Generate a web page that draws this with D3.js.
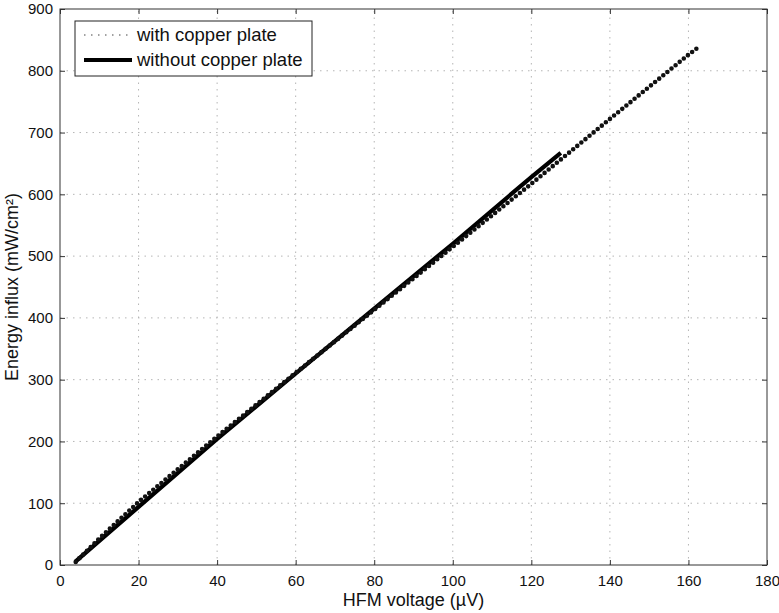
<!DOCTYPE html>
<html><head><meta charset="utf-8">
<script src="https://cdn.jsdelivr.net/npm/d3@7"></script>
<style>body{margin:0;background:#fff}svg{display:block;font-family:"Liberation Sans",Arial,Helvetica,sans-serif}</style>
</head><body>
<svg id="c" width="779" height="613"></svg>
<script>
// data
const withX = [4, 10, 20, 40, 60, 80, 100, 120, 140, 160, 162.5];
const withY = [5, 43, 102, 208, 311, 413, 515, 617, 722, 826, 838];
const withoutX = [4, 20, 40, 60, 80, 100, 120, 127.5];
const withoutY = [6, 94, 204, 310, 415, 520, 628, 667];
const xTicks = [0, 20, 40, 60, 80, 100, 120, 140, 160, 180];
const yTicks = [0, 100, 200, 300, 400, 500, 600, 700, 800, 900];
const seriesNames = ["with copper plate", "without copper plate"];
const xLabel = "HFM voltage (\u00b5V)";
const yLabel = "Energy influx (mW/cm\u00b2)";

const svg = d3.select("#c");
const L = 60, R = 767, T = 9, B = 565;
const x = d3.scaleLinear().domain([0, 180]).range([L, R]);
const y = d3.scaleLinear().domain([0, 900]).range([B, T]);

// grid
const g = svg.append("g");
g.selectAll(".gx").data(xTicks.slice(1, -1)).enter().append("line")
  .attr("x1", d => x(d)).attr("x2", d => x(d)).attr("y1", B).attr("y2", T)
  .attr("stroke", "#b5b5b5").attr("stroke-width", 1).attr("stroke-dasharray", "1.5,5");
g.selectAll(".gy").data(yTicks.slice(1, -1)).enter().append("line")
  .attr("y1", d => y(d)).attr("y2", d => y(d)).attr("x1", L).attr("x2", R)
  .attr("stroke", "#b5b5b5").attr("stroke-width", 1).attr("stroke-dasharray", "1.5,5");

// axes
const ax = d3.axisBottom(x).tickValues(xTicks).tickSize(-5).tickPadding(10).tickFormat(d3.format("d"));
const ay = d3.axisLeft(y).tickValues(yTicks).tickSize(-5).tickPadding(7).tickFormat(d3.format("d"));
const axT = d3.axisTop(x).tickValues(xTicks).tickSize(-5).tickFormat("");
const ayR = d3.axisRight(y).tickValues(yTicks).tickSize(-5).tickFormat("");
function style(sel){
  sel.select(".domain").remove();
  sel.selectAll("line").attr("stroke", "#333");
  sel.selectAll("text").attr("fill", "#111").style("font-size", "15px");
}
svg.append("g").attr("transform", `translate(0,${B})`).call(ax).call(style);
svg.append("g").attr("transform", `translate(${L},0)`).call(ay).call(style);
svg.append("g").attr("transform", `translate(0,${T})`).call(axT).call(style);
svg.append("g").attr("transform", `translate(${R},0)`).call(ayR).call(style);
svg.append("rect").attr("x", L).attr("y", T).attr("width", R - L).attr("height", B - T)
  .attr("fill", "none").attr("stroke", "#333").attr("stroke-width", 1);

// lines
const line = d3.line().x(d => x(d[0])).y(d => y(d[1]));
svg.append("path").datum(withoutX.map((v, i) => [v, withoutY[i]]))
  .attr("d", line).attr("fill", "none").attr("stroke", "#000").attr("stroke-width", 4.2);
svg.append("path").datum(withX.map((v, i) => [v, withY[i]]))
  .attr("d", line).attr("fill", "none").attr("stroke", "#111").attr("stroke-width", 4.6)
  .attr("stroke-linecap", "round").attr("stroke-dasharray", "0,5.3");

// labels
svg.append("text").attr("x", (L + R) / 2).attr("y", 606).attr("text-anchor", "middle")
  .style("font-size", "18px").attr("fill", "#111").text(xLabel);
svg.append("text").attr("transform", `translate(18,${(T + B) / 2}) rotate(-90)`).attr("text-anchor", "middle")
  .style("font-size", "18px").attr("fill", "#111").text(yLabel);

// legend
const lg = svg.append("g");
lg.append("rect").attr("x", 75).attr("y", 21).attr("width", 237).attr("height", 55)
  .attr("fill", "#fff").attr("stroke", "#222").attr("stroke-width", 1);
const rows = [35, 60];
lg.append("line").attr("x1", 84).attr("x2", 132).attr("y1", rows[0]).attr("y2", rows[0])
  .attr("stroke", "#444").attr("stroke-width", 1).attr("stroke-dasharray", "1.5,5.5");
lg.append("line").attr("x1", 84).attr("x2", 132).attr("y1", rows[1]).attr("y2", rows[1])
  .attr("stroke", "#000").attr("stroke-width", 4.2);
lg.selectAll("text").data(seriesNames).enter().append("text")
  .attr("x", 137).attr("y", (d, i) => rows[i]).attr("dy", "0.35em")
  .style("font-size", "18.5px").attr("fill", "#111").text(d => d);
</script>
</body></html>
